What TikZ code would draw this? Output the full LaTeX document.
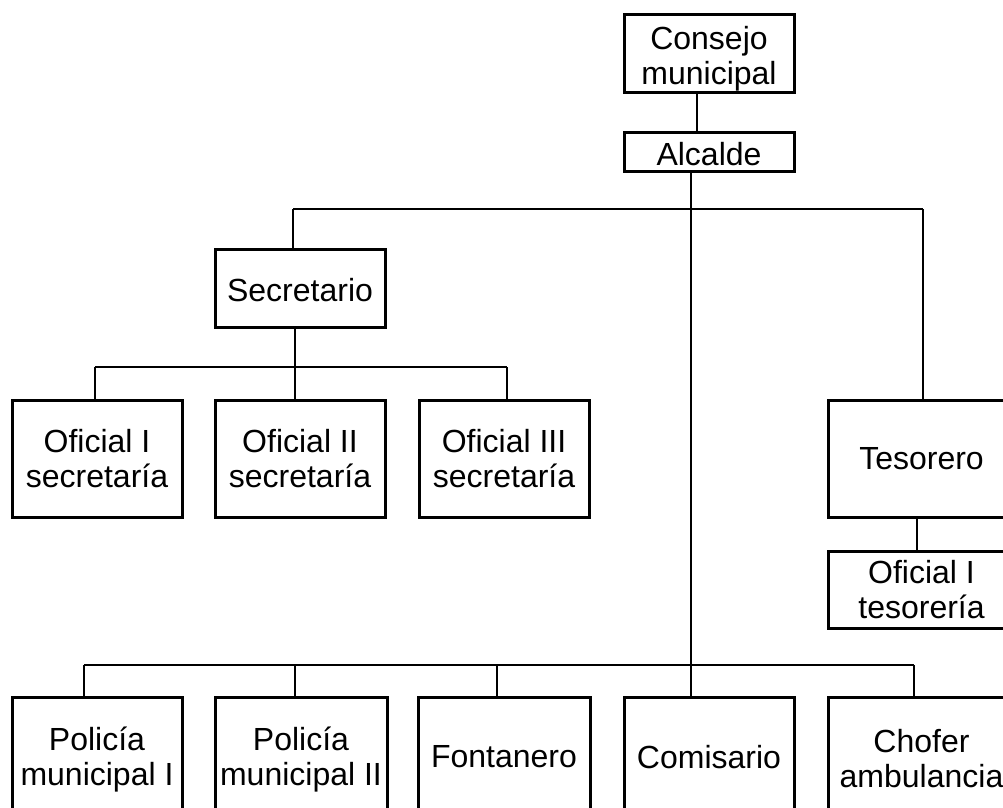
\documentclass[tikz,border=0pt]{standalone}
\usepackage{fontspec}
\setmainfont{Liberation Sans}
\newcommand{\lift}[1]{\rule{0pt}{#1}}
\begin{document}
\begin{tikzpicture}[x=1pt,y=-1pt,
  box/.style={draw=black, line width=3pt, inner sep=0pt, outer sep=0pt, align=center,
    font=\fontsize{32}{35}\selectfont},
  conn/.style={draw=black, line width=1.8pt}]
\useasboundingbox (0,0) rectangle (1003,807);
\clip (0,0) rectangle (1003,807);
\fill[white] (0,0) rectangle (1003,807);
% nodes (centre, width, height)
\node[box, minimum width=170pt, minimum height=78pt] (consejo) at (709,53) {\lift{35pt}Consejo\\municipal};
\node[box, minimum width=170pt, minimum height=39pt] (alcalde) at (709,151.5) {\lift{28pt}Alcalde};
\node[box, minimum width=170pt, minimum height=78pt] (secretario) at (300,288) {\lift{27pt}Secretario};
\node[box, minimum width=170pt, minimum height=117pt] (of1) at (97,458.5) {Oficial I\\secretaría};
\node[box, minimum width=170pt, minimum height=117pt] (of2) at (300,458.5) {Oficial II\\secretaría};
\node[box, minimum width=170pt, minimum height=117pt] (of3) at (504,458.5) {Oficial III\\secretaría};
\node[box, minimum width=187pt, minimum height=117pt] (tesorero) at (921.5,458.5) {Tesorero};
\node[box, minimum width=187pt, minimum height=77pt] (oft) at (921.5,589.5) {Oficial I\\tesorería};
\node[box, minimum width=170pt, minimum height=120pt] (pol1) at (97,757) {\lift{29pt}Policía\\municipal I};
\node[box, minimum width=172pt, minimum height=120pt] (pol2) at (301,757) {\lift{29pt}Policía\\municipal II};
\node[box, minimum width=172pt, minimum height=120pt] (fon) at (504,757) {Fontanero};
\node[box, minimum width=170pt, minimum height=120pt] (com) at (709,757) {Comisario};
\node[box, minimum width=187pt, minimum height=120pt] (cho) at (921.5,757) {\lift{27pt}Chofer\\ambulancia};
% junction coordinates
\coordinate (cx) at (697,0);
\coordinate (tl) at (293,209);
\coordinate (tr) at (923,209);
\coordinate (ta) at (691,209);
\coordinate (sm) at (295,367);
\coordinate (sl) at (95,367);
\coordinate (sr) at (507,367);
\coordinate (tt) at (917,0);
\coordinate (bl) at (84,665);
\coordinate (b2) at (295,665);
\coordinate (b3) at (497,665);
\coordinate (br) at (914,665);
% connectors
\draw[conn] (consejo.south -| cx) -- (alcalde.north -| cx);
\draw[conn] (alcalde.south -| ta) -- (ta |- com.north);
\draw[conn] (tl) -- (tr);
\draw[conn] (tl) -- (tl |- secretario.north);
\draw[conn] (tr) -- (tr |- tesorero.north);
\draw[conn] (secretario.south -| sm) -- (sm);
\draw[conn] (sl) -- (sr);
\draw[conn] (sl) -- (sl |- of1.north);
\draw[conn] (sm) -- (sm |- of2.north);
\draw[conn] (sr) -- (sr |- of3.north);
\draw[conn] (tesorero.south -| tt) -- (oft.north -| tt);
\draw[conn] (bl) -- (br);
\draw[conn] (bl) -- (bl |- pol1.north);
\draw[conn] (b2) -- (b2 |- pol2.north);
\draw[conn] (b3) -- (b3 |- fon.north);
\draw[conn] (br) -- (br |- cho.north);
\end{tikzpicture}
\end{document}
